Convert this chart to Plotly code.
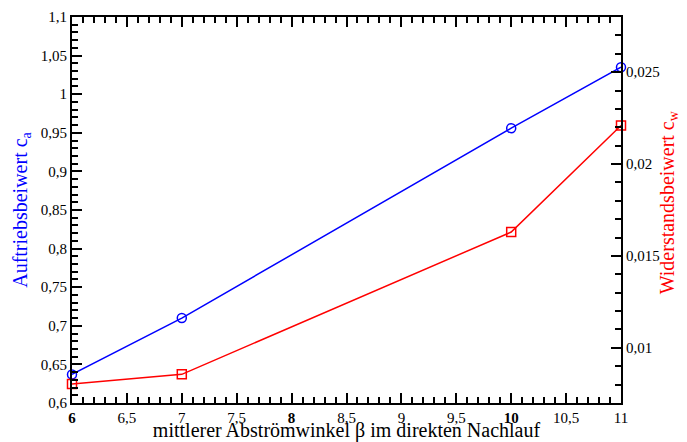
import plotly.graph_objects as go

beta = [6, 7, 10, 11]
ca = [0.637, 0.710, 0.956, 1.035]
cw = [0.00803, 0.00856, 0.0163, 0.0221]

x_tickvals = [6, 6.5, 7, 7.5, 8, 8.5, 9, 9.5, 10, 10.5, 11]
x_ticktext = ["<b>6</b>", "6,5", "7", "7,5", "<b>8</b>", "8,5", "9", "9,5", "<b>10</b>", "10,5", "11"]
y1_tickvals = [0.6, 0.65, 0.7, 0.75, 0.8, 0.85, 0.9, 0.95, 1.0, 1.05, 1.1]
y1_ticktext = ["0,6", "0,65", "0,7", "0,75", "0,8", "0,85", "0,9", "0,95", "1", "1,05", "1,1"]
y2_tickvals = [0.01, 0.015, 0.02, 0.025]
y2_ticktext = ["0,01", "0,015", "0,02", "0,025"]

FONT = "Liberation Serif"

fig = go.Figure()
fig.add_trace(go.Scatter(
    x=beta, y=ca, mode="lines+markers", yaxis="y",
    line=dict(color="#0000ff", width=1.5),
    marker=dict(symbol="circle-open", size=9, color="#0000ff", line=dict(width=1.5)),
    cliponaxis=False, showlegend=False))
fig.add_trace(go.Scatter(
    x=beta, y=cw, mode="lines+markers", yaxis="y2",
    line=dict(color="#ff0000", width=1.5),
    marker=dict(symbol="square-open", size=9, color="#ff0000", line=dict(width=1.5)),
    cliponaxis=False, showlegend=False))

axis_common = dict(showgrid=False, zeroline=False, showline=True, linecolor="black",
                   linewidth=2, ticks="inside", tickcolor="black", tickwidth=1.5,
                   tickfont=dict(family=FONT, size=15, color="black"))

fig.update_layout(
    width=679, height=434,
    margin=dict(l=64, r=66, t=9, b=39),
    plot_bgcolor="white", paper_bgcolor="white",
    font=dict(family=FONT, color="black"),
    xaxis=dict(**axis_common, range=[6, 11], tickvals=x_tickvals, ticktext=x_ticktext,
               ticklen=10, mirror="ticks", automargin=False,
               minor=dict(dtick=0.1, ticklen=6, ticks="inside", tickcolor="black", tickwidth=1.5),
               title=dict(text="mittlerer Abströmwinkel β im direkten Nachlauf",
                          font=dict(family=FONT, size=20, color="black"), standoff=0)),
    yaxis=dict(**axis_common, range=[0.6, 1.1], tickvals=y1_tickvals, ticktext=y1_ticktext,
               ticklen=10, automargin=False,
               minor=dict(dtick=0.01, ticklen=6, ticks="inside", tickcolor="black", tickwidth=1.5),
               title=dict(text="Auftriebsbeiwert c<sub>a</sub>",
                          font=dict(family=FONT, size=20, color="#0000ff"), standoff=8)),
    yaxis2=dict(**axis_common, range=[0.007, 0.028], tickvals=y2_tickvals, ticktext=y2_ticktext,
                ticklen=10, overlaying="y", side="right", automargin=False,
                minor=dict(dtick=0.001, ticklen=6, ticks="inside", tickcolor="black", tickwidth=1.5)),
    annotations=[dict(text="Widerstandsbeiwert c<sub>w</sub>", textangle=-90,
                      xref="paper", yref="paper", x=1, y=0.52,
                      xanchor="center", yanchor="middle", xshift=47, showarrow=False,
                      font=dict(family=FONT, size=20, color="#ff0000"))],
)

fig.write_html("out.html")
